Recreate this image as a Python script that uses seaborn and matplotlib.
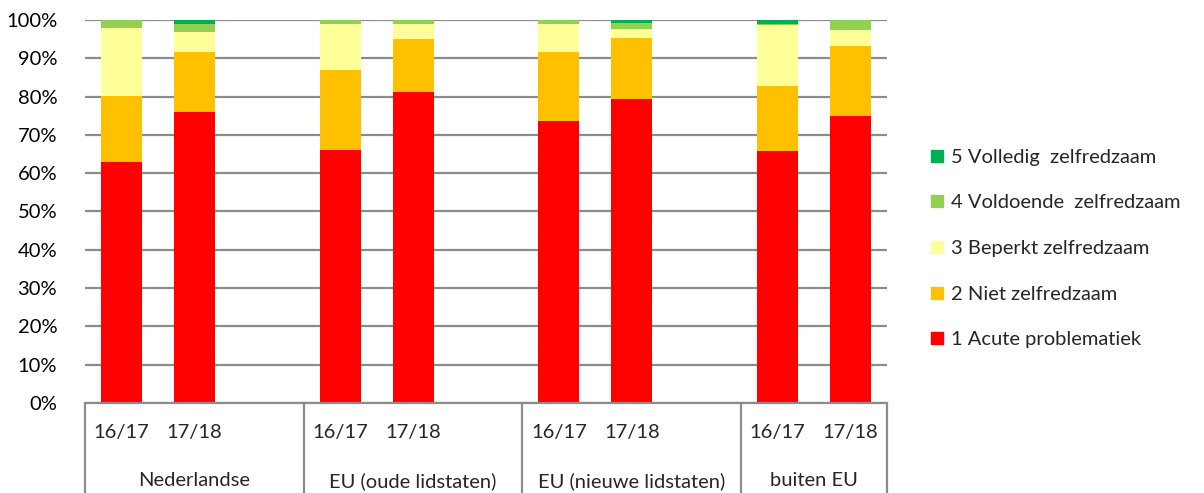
import numpy as np
import pandas as pd
import matplotlib
matplotlib.use("Agg")
import matplotlib.pyplot as plt
from matplotlib.lines import Line2D
from matplotlib.ticker import PercentFormatter
import seaborn as sns

groups = ["Nederlandse", "EU (oude lidstaten)", "EU (nieuwe lidstaten)", "buiten EU"]
years = ["16/17", "17/18"]

# share per level (%), order: NL 16/17, NL 17/18, EU-oud 16/17, ... buiten EU 17/18
acute = [63.0, 76.0, 66.0, 81.2, 73.6, 79.5, 65.8, 74.9]
niet = [17.2, 15.7, 21.0, 13.8, 18.1, 15.7, 17.0, 18.3]
beperkt = [17.8, 5.3, 11.9, 3.9, 7.2, 2.4, 15.9, 4.2]
voldoende = [2.0, 1.9, 1.1, 1.1, 1.1, 1.7, 0.2, 2.6]
volledig = [0.0, 1.1, 0.0, 0.0, 0.0, 0.7, 1.1, 0.0]

labels = ["1 Acute problematiek", "2 Niet zelfredzaam", "3 Beperkt zelfredzaam",
          "4 Voldoende  zelfredzaam", "5 Volledig  zelfredzaam"]
colors = ["#FF0000", "#FFC000", "#FFFF99", "#92D050", "#00B050"]

sns.set_style("white")
plt.rcParams["font.family"] = ["Lato", "DejaVu Sans"]
FS = 14.5

# bar slots, with an empty slot after each group except the last
keys = []
for g in groups:
    for y in years:
        keys.append(g + " " + y)
order = []
for i, g in enumerate(groups):
    order += [g + " " + y for y in years]
    if i < len(groups) - 1:
        order.append("gap" + str(i))

layers = np.array([acute, niet, beperkt, voldoende, volledig]) / 100
cum = np.cumsum(layers, axis=0)

fig = plt.figure(figsize=(12.04, 4.93), dpi=100)
ax = fig.add_axes([0.0706, 0.1826, 0.6661, 0.7768])

for k in range(4, -1, -1):
    df = pd.DataFrame({"key": keys, "val": cum[k]})
    sns.barplot(data=df, x="key", y="val", order=order, color=colors[k],
                saturation=1, width=0.56, linewidth=0, ax=ax)

ax.set_xlim(-0.5, len(order) - 0.5)
ax.set_ylim(0, 1)
ax.set_yticks(np.arange(0, 1.01, 0.1))
ax.yaxis.set_major_formatter(PercentFormatter(1.0, decimals=0))
ax.tick_params(axis="y", length=0, pad=20, labelsize=FS, labelcolor="black")
ax.set_axisbelow(True)
ax.yaxis.grid(True, color="#8C8C8C", linewidth=1.6)
ax.set_xticks([])
ax.set_xlabel("")
ax.set_ylabel("")
for s in ["top", "right", "left"]:
    ax.spines[s].set_visible(False)
ax.spines["bottom"].set_color("#8C8C8C")
ax.spines["bottom"].set_linewidth(1.6)

trans = ax.get_xaxis_transform()
for pos, name in enumerate(order):
    if name.startswith("gap"):
        continue
    ax.text(pos, -0.078, name.split(" ")[-1], transform=trans, ha="center",
            va="center", fontsize=FS)
starts = [-0.5, 2.5, 5.5, 8.5]
ends = [2.5, 5.5, 8.5, 10.5]
for g, a, b in zip(groups, starts, ends):
    ax.text((a + b) / 2, -0.203, g, transform=trans, ha="center", va="center",
            fontsize=FS)
for xb in starts + [10.5]:
    ax.plot([xb, xb], [0, -0.24], transform=trans, color="#8C8C8C",
            linewidth=1.6, clip_on=False)

handles = [Line2D([], [], marker="s", linestyle="", markersize=9,
                  markerfacecolor=c, markeredgecolor=c) for c in colors]
fig.legend(handles[::-1], labels[::-1], loc="center left",
           bbox_to_anchor=(0.757, 0.496), frameon=False, fontsize=FS,
           labelspacing=1.42, handlelength=0.7, handletextpad=0.35)

fig.savefig("out.png", dpi=100)
